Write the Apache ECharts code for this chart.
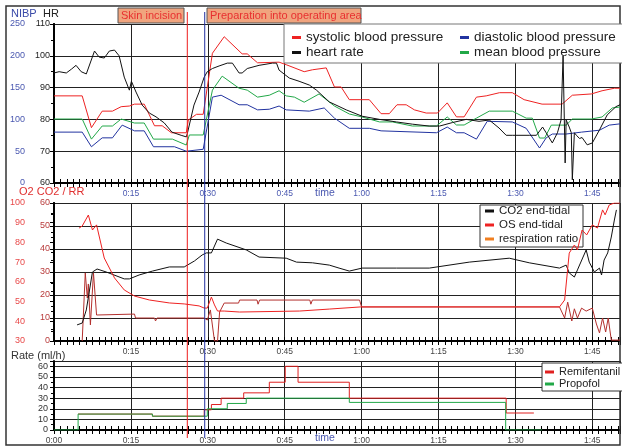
<!DOCTYPE html>
<html>
<head>
<meta charset="utf-8">
<script src="https://cdn.jsdelivr.net/npm/echarts/dist/echarts.min.js"></script>
<style>
  html, body { margin: 0; padding: 0; background: #fff; }
  #chart { width: 622px; height: 447px; }
</style>
</head>
<body>
<div id="chart"></div>
<script>
// time in minutes from start of record
var heartRate = [[0,94.6],[1,95],[2.4,94.6],[3.4,95.8],[4.3,97],[5.3,95],[6.3,94.3],[7.9,101.5],[8.8,99.6],[9.8,99.3],[10.8,101.5],[11.8,101.8],[12.7,100],[13.7,93.3],[14.7,89.2],[15.1,92],[16,88.6],[17.2,84.5],[18.6,82],[19.9,80.8],[21.5,78.9],[23,76],[24.8,75],[25.8,74.5],[26,75.5],[27.3,84.5],[28.3,88.6],[29.3,93.3],[29.9,95],[30.9,96],[32.2,96.8],[33.8,97.7],[34.8,97.7],[36.1,94.6],[36.7,94.6],[37.7,96],[40,97],[42.6,97.7],[43.4,97.7],[43.9,95.5],[45.9,93],[47.8,92],[49.8,90.8],[51.2,89.2],[53.7,85.5],[57,83],[60.1,81],[63.5,80],[66.8,79.2],[69.9,78.5],[73.2,77.9],[75.2,77.9],[77.7,79],[80.4,80],[82.9,79.4],[84.9,79.8],[86.8,77.3],[88.2,75],[89.4,75],[92.7,75],[94.1,75],[95.3,77.6],[96,75.8],[97.2,72.6],[98.2,75.8],[98.9,79.8],[99.1,79.8],[99.3,100],[99.7,66.3],[99.9,79.8],[100.5,77.6],[100.9,75.8],[101.1,61],[101.5,75.8],[101.9,75],[102.5,74],[103,74.3],[104,72],[105,72.6],[106.4,76.7],[107.9,81.4],[109.6,84],[110.4,84.6]];
var systolic = [[0,137],[5.5,137],[7.3,87],[9.4,113],[11.4,113],[13.1,120],[14.7,121],[15.7,124],[17.6,124],[19.6,90],[21.1,90],[22.9,79],[25.8,79],[26.2,99],[27.8,108],[29.1,108],[30.9,204],[33.2,230],[36.7,203],[37.7,203],[39.7,189],[43.9,190],[45.3,186],[48.8,175],[50.4,178],[53.1,181],[54.7,151],[56,151],[57.6,131],[61.5,131],[63.8,109],[65.4,109],[66.9,123],[68.7,123],[70.3,115],[72.6,110],[74.8,110],[76.7,126],[78.5,104],[80,104],[82.4,135],[84.3,137],[86.9,142],[89.4,142],[91.7,131],[95.2,124],[99.1,124],[101.1,138],[104.8,140],[106.9,145],[109.3,149],[110.4,149]];
var diastolic = [[0,80],[5.5,80],[7.3,57],[9.4,71],[11.4,71],[13.3,91],[15.7,82],[17.6,82],[19.4,57],[23.5,57],[25.8,50],[29.1,53],[30.9,135],[32.6,138],[36.1,123],[37.7,123],[39.7,115],[42,116],[43.9,121],[45.3,115],[49.8,113],[52.7,118],[54.7,102],[57.6,86],[61.5,86],[63.8,82],[74.6,79],[76.7,88],[78.5,79],[80,79],[82.4,69],[84.5,97],[89.4,96],[92.1,86],[94.7,55],[96,71],[97.2,77],[99.9,77],[102.9,80],[106.4,83],[108.3,91],[110.4,93]];
var meanPressure = [[0,100.6],[5.5,100.6],[7.3,69],[9.4,89.6],[11.4,89.6],[13.1,100.6],[15.7,94.3],[17.6,94.3],[19.4,69],[23.1,69],[25.8,59.7],[26.4,75.5],[29.1,75.5],[30.9,146],[32.8,168],[36.1,149],[37.7,146],[39.7,135],[42,138],[43.9,145],[45.3,137],[46.9,135],[48.8,127],[51.7,140],[54.7,121],[57.6,108.5],[60.1,103.8],[63.5,96],[66,96],[69.9,89.6],[74.6,89.6],[76.7,103.8],[78.5,91.2],[80,91.2],[82.4,102],[84.9,113],[89.4,113],[92.1,102],[93.3,102],[94.7,70.7],[95.7,70.7],[97,91],[99.9,91],[101.1,100.6],[104.8,100.6],[106.9,103.8],[108.9,118],[110.4,119.5]];

var co2 = [[4.5,7],[5.5,7.8],[6.3,13.5],[7.5,30],[8.4,31.3],[10.2,30],[13.7,27],[14.7,27],[16.6,28.7],[19.2,30.4],[22.5,32.2],[25.4,32.2],[27.4,34.8],[28.9,37.4],[29.7,38.3],[30.7,38.3],[31.9,44.3],[33.6,42.6],[37.5,39.6],[40,36.5],[45.3,36],[47.3,34.3],[50.4,34],[53.7,33],[55.6,31.7],[57.6,30.4],[60.1,31.7],[66.8,31.7],[73.2,31.7],[81,34.3],[88.8,36],[92.7,34],[98.6,31.7],[99.9,33],[100.5,29.6],[101.5,27.8],[102.1,30.9],[103.8,39.6],[104.4,34.3],[105.4,30],[106.4,31.7],[106.8,28.7],[107.3,35.2],[108,38.3],[108.7,45.2],[109.3,52.6],[109.7,57]];
var o2EndTidal = [[4.9,87.3],[5.5,88.3],[6.7,93.9],[7.5,86.3],[8.3,88.9],[9.8,72.1],[11.8,62],[13.7,55.9],[15.7,52.8],[18.6,50.8],[22.5,49.3],[25.4,48.8],[28.3,47.8],[29.3,46.7],[29.9,46.7],[30.7,52.3],[31.3,48.3],[31.9,45.2],[33.2,45.2],[36.2,44.7],[47.9,45.2],[53.7,46.2],[59.9,47.3],[98.6,47.3],[99.6,50.8],[100.5,74.6],[101.5,78.7],[102.1,76.2],[103,86.3],[103.9,83.8],[105,88.9],[106,87.3],[107,96.5],[107.5,94],[108.3,99],[109.3,100],[110.4,100]];
var respRatio = [[5.5,0],[6.1,29.6],[6.5,18.7],[6.7,24.8],[7.1,7],[7.7,29.6],[8.3,11.3],[8.4,11.7],[15.7,11.7],[15.9,10],[19.6,10],[19.8,8.7],[20.1,10],[29.3,10],[29.9,9.1],[30.5,13.5],[31.3,0],[31.9,0],[32.3,12.6],[33.2,16.5],[36,16.5],[36.2,17.8],[39.6,17.8],[39.8,16],[40.1,17.8],[49.9,17.8],[50.1,16],[50.4,17.8],[59.6,17.8],[60,14.8],[98.6,14.8],[99.6,10],[100.2,16.9],[101,8.7],[101.5,14],[102.1,10],[102.9,14.3],[103.8,13],[105,14.3],[105.8,7.4],[106.4,3.5],[107,10],[107.6,3.9],[108.1,10],[108.7,0.4],[110.4,0.4]];

var remifentanil = [[4.7,15],[19.2,13],[29.3,19],[30.7,24],[32.6,30],[37,35],[42,45],[45.1,60],[47.6,45],[57.6,30],[88.2,16],[93.6,16]];
var propofol = [[0,0],[4.7,15],[19.2,13],[29.9,20],[33.8,25],[37.5,30],[57.6,26],[88.1,0],[95.2,0]];

var skinIncisionTime = 26.0;
var preparationTime = 29.4;

var FONT = 'Liberation Sans, Arial, sans-serif';
var X_MAX = 110.4;

function fmt(v) {
  var h = Math.floor(v / 60), m = Math.round(v % 60);
  return h + ':' + (m < 10 ? '0' : '') + m;
}

function xPair(grid, labelColor, showMin) {
  return [{
    type: 'value', gridIndex: grid, min: 0, max: X_MAX, interval: 15, position: 'bottom',
    axisLine: { onZero: false, lineStyle: { color: '#000', width: 2 } },
    axisTick: { length: 4, lineStyle: { color: '#000' } },
    minorTick: { show: true, splitNumber: 12, length: 4, lineStyle: { color: '#000' } },
    axisLabel: { formatter: fmt, color: labelColor, fontSize: 8.5, margin: 6, fontFamily: FONT,
                 showMinLabel: showMin, showMaxLabel: false },
    splitLine: { show: true, lineStyle: { color: '#222', width: 1 } }
  }, {
    type: 'value', gridIndex: grid, min: 0, max: X_MAX, interval: 15, position: 'bottom',
    axisLine: { show: false, onZero: false },
    axisLabel: { show: false },
    axisTick: { inside: true, length: 4, lineStyle: { color: '#000' } },
    minorTick: { show: true, splitNumber: 12, length: 4, lineStyle: { color: '#000' } },
    splitLine: { show: false }
  }];
}

function yAx(grid, min, max, interval, offset, color, split, margin) {
  return {
    type: 'value', gridIndex: grid, min: min, max: max, interval: interval,
    position: 'left', offset: offset,
    axisLine: { show: true, lineStyle: { color: '#000', width: 2 } },
    axisTick: { show: true, length: 4, lineStyle: { color: '#000' } },
    minorTick: { show: true, splitNumber: 2, length: 3, lineStyle: { color: '#000' } },
    axisLabel: { color: color, fontSize: 9, margin: margin, fontFamily: FONT, showMaxLabel: max % interval === 0 },
    splitLine: { show: split, lineStyle: { color: '#222', width: 1 } }
  };
}

function lineSeries(name, data, color, xi, yi, extra) {
  var s = {
    name: name, type: 'line', data: data, xAxisIndex: xi, yAxisIndex: yi,
    showSymbol: false, symbol: 'none', silent: true,
    lineStyle: { color: color, width: 1 }, itemStyle: { color: color }
  };
  if (extra) for (var k in extra) s[k] = extra[k];
  return s;
}

var chart = echarts.init(document.getElementById('chart'));

var legendCommon = {
  orient: 'vertical', icon: 'rect', itemWidth: 9, itemHeight: 3, padding: 0,
  selectedMode: false, itemGap: 0
};

chart.setOption({
  animation: false,
  backgroundColor: '#fff',
  textStyle: { fontFamily: FONT },
  grid: [
    { left: 54, right: 2, top: 24, height: 159 },
    { left: 54, right: 2, top: 203, height: 138 },
    { left: 54, right: 2, top: 361, height: 69 }
  ],
  xAxis: [].concat(xPair(0, '#4a58b0', false), xPair(1, '#444', false), xPair(2, '#444', true)),
  yAxis: [
    yAx(0, 60, 110, 10, 0, '#222', true, 4),
    yAx(0, 0, 250, 50, 21, '#4a58b0', false, 8),
    yAx(1, 0, 60, 10, 0, '#b83a3a', true, 4),
    yAx(1, 30, 100, 10, 21, '#e84848', false, 8),
    yAx(2, 0, 65, 10, 0, '#333', true, 6)
  ],
  legend: [
    Object.assign({ left: 292, top: 30, data: ['systolic blood pressure', 'heart rate'],
      textStyle: { fontSize: 13.5, color: '#222', lineHeight: 15, fontFamily: FONT } }, legendCommon),
    Object.assign({ left: 460, top: 30, data: ['diastolic blood pressure', 'mean blood pressure'],
      textStyle: { fontSize: 13.5, color: '#222', lineHeight: 15, fontFamily: FONT } }, legendCommon),
    Object.assign({ left: 485, top: 204, data: ['CO2 end-tidal', 'OS end-tidal',
      { name: 'respiration ratio', itemStyle: { color: '#f07f20' } }],
      textStyle: { fontSize: 11.5, color: '#222', lineHeight: 14, fontFamily: FONT } }, legendCommon),
    Object.assign({ left: 545, top: 366, data: ['Remifentanil', 'Propofol'],
      textStyle: { fontSize: 11, color: '#222', lineHeight: 12, fontFamily: FONT } }, legendCommon)
  ],
  series: [
    lineSeries('diastolic blood pressure', diastolic, '#2233a0', 0, 1),
    lineSeries('mean blood pressure', meanPressure, '#22a848', 0, 1),
    lineSeries('systolic blood pressure', systolic, '#ee2222', 0, 1),
    lineSeries('heart rate', heartRate, '#111', 0, 0),
    lineSeries('respiration ratio', respRatio, '#b3302e', 2, 2),
    lineSeries('CO2 end-tidal', co2, '#111', 2, 2),
    lineSeries('OS end-tidal', o2EndTidal, '#ee2222', 2, 3),
    lineSeries('Remifentanil', remifentanil, '#e02020', 4, 4, { step: 'end' }),
    lineSeries('Propofol', propofol, '#22a848', 4, 4, { step: 'end' })
  ]
});

var xSkin = chart.convertToPixel({ xAxisIndex: 0 }, skinIncisionTime);
var xPrep = chart.convertToPixel({ xAxisIndex: 0 }, preparationTime);

function label(text, x, y, color, size) {
  return { type: 'text', z: 10, style: { text: text, x: x, y: y, fill: color, fontSize: size,
           fontFamily: FONT, verticalAlign: 'middle' } };
}

chart.setOption({
  graphic: [
    { type: 'rect', z: 1, shape: { x: 6, y: 6, width: 614, height: 439 },
      style: { fill: 'none', stroke: '#333', lineWidth: 1.5 } },
    // legend boxes
    { type: 'rect', z: 3, shape: { x: 284, y: 24, width: 340, height: 39 },
      style: { fill: '#fff', stroke: '#777', lineWidth: 1 } },
    { type: 'rect', z: 3, shape: { x: 480, y: 205, width: 103, height: 42 },
      style: { fill: '#fff', stroke: '#333', lineWidth: 1 } },
    { type: 'rect', z: 3, shape: { x: 542, y: 363, width: 82, height: 28 },
      style: { fill: '#fff', stroke: '#333', lineWidth: 1 } },
    // annotation boxes
    { type: 'rect', z: 5, shape: { x: 118, y: 8, width: 66, height: 15 },
      style: { fill: '#f0a47e', stroke: '#555', lineWidth: 1 } },
    label('Skin incision', 121, 15.5, '#e83030', 11),
    { type: 'rect', z: 5, shape: { x: 207, y: 8, width: 154, height: 15 },
      style: { fill: '#f0a47e', stroke: '#555', lineWidth: 1 } },
    label('Preparation into operating area', 210, 15.5, '#e83030', 11),
    // event markers
    { type: 'line', z: 9, shape: { x1: xSkin, y1: 12, x2: xSkin, y2: 438 },
      style: { stroke: '#ee1c1c', lineWidth: 1 } },
    { type: 'line', z: 9, shape: { x1: xPrep, y1: 12, x2: xPrep, y2: 438 },
      style: { stroke: '#2030a0', lineWidth: 1 } },
    // axis titles
    label('NIBP', 11, 14, '#3a4aa8', 11),
    label('HR', 43, 14, '#222', 11),
    label('O2 CO2 / RR', 19, 192, '#e03030', 11),
    label('Rate (ml/h)', 11, 356, '#333', 11),
    label('time', 315, 193, '#4a58b0', 10.5),
    label('time', 315, 438, '#4a58b0', 10.5)
  ]
});
</script>
</body>
</html>
